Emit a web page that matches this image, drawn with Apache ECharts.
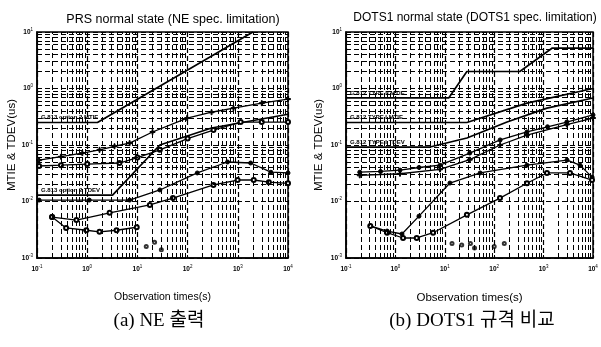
<!DOCTYPE html>
<html>
<head>
<meta charset="utf-8">
<script src="https://cdn.jsdelivr.net/npm/echarts@6/dist/echarts.min.js"></script>
<style>
  html, body { margin: 0; padding: 0; background: #fff; }
  #chart { width: 601px; height: 347px; }
</style>
</head>
<body>
<div id="chart"></div>
<script>
// (a) PRS normal state, NE spec. limitation  -- [tau(s), value(us)]
const neMtieMask = [[0.1, 0.25], [1.6, 0.25], [2000, 10]];
const neTdevMask = [[0.1, 0.013], [3.2, 0.013], [28, 0.1], [300, 0.2], [10000, 0.35]];
const neMtie1 = [[0.11, 0.054], [0.3, 0.062], [0.8, 0.072], [1.76, 0.082], [3.5, 0.095], [7, 0.108], [20, 0.17], [98, 0.3], [300, 0.38], [820, 0.45], [3000, 0.55], [10000, 0.65]];
const neMtie2 = [[0.11, 0.0425], [0.3, 0.044], [1, 0.046], [4.4, 0.048], [10, 0.06], [28, 0.082], [100, 0.13], [327, 0.184], [1140, 0.255], [3000, 0.255], [10000, 0.255]];
const neTdev1 = [[0.2, 0.0053], [0.61, 0.0047], [2.8, 0.0063], [17.7, 0.0087], [51, 0.0115], [327, 0.0196], [990, 0.024], [2075, 0.024], [4150, 0.022], [10000, 0.021]];
const neTdev2 = [[0.11, 0.0106], [1.1, 0.0106], [7, 0.0106], [28, 0.016], [156, 0.032], [624, 0.05], [1800, 0.048], [4560, 0.033], [10000, 0.032]];
const neTdev3 = [[0.2, 0.0053], [0.38, 0.0034], [0.96, 0.0031], [1.76, 0.0029], [3.85, 0.0031], [9.7, 0.0035]];
const neTdevLow = [[15, 0.0016], [22, 0.0019], [30, 0.0014]];

// (b) DOTS1 normal state, DOTS1 spec. limitation
const dotsMtieMask2 = [[0.1, 0.68], [12, 0.68], [28, 2], [330, 2], [1500, 5.2], [10000, 5.2]];
const dotsMtieMask1 = [[0.1, 0.25], [28, 0.25], [460, 0.55], [10000, 1.0]];
const dotsTdevMask1 = [[0.1, 0.092], [5, 0.092], [28, 0.133], [182, 0.255], [1170, 0.45], [10000, 0.68]];
const dotsMtie1 = [[0.19, 0.033], [0.5, 0.034], [1.24, 0.036], [3, 0.04], [8, 0.044], [32, 0.072], [132, 0.123], [460, 0.17], [1200, 0.21], [2950, 0.255], [10000, 0.34]];
const dotsMtie2 = [[0.19, 0.029], [1.24, 0.031], [8, 0.037], [32, 0.055], [132, 0.1], [460, 0.15], [2950, 0.23], [10000, 0.3]];
const dotsTdev1 = [[0.31, 0.0037], [0.68, 0.003], [1.36, 0.00266], [3, 0.0055], [12.7, 0.0212], [52, 0.032], [460, 0.044], [2980, 0.054], [5460, 0.044], [9550, 0.027]];
const dotsTdev2 = [[0.31, 0.0037], [0.68, 0.0028], [1.43, 0.00226], [2.7, 0.00226], [5.8, 0.0028], [28, 0.0058], [131, 0.0115], [461, 0.021], [1170, 0.032], [3420, 0.032], [9550, 0.024]];
const dotsTdevLow = [[14, 0.0018], [22, 0.0017], [33, 0.0018], [40, 0.0015], [100, 0.0016], [160, 0.0018]];

const maskNames = {
  neMtie: "G.813 option 2 MTIE",
  neTdev: "G.813 option 2 TDEV",
  dotsMtie2: "G.812 TYPE II MTIE",
  dotsMtie1: "G.812 TYPE I MTIE",
  dotsTdev1: "G.812 TYPE I TDEV",
};

const xDecades = [-1, 0, 1, 2, 3];
const yDecades = [-3, -2, -1, 0];

const FONT = "Liberation Sans";
const plusSymbol = "path://M4 0h2v4h4v2h-4v4h-2v-4h-4v-2h4z";
const gridDash = [5, 3];

// minor grid (2..9 of every decade) as mark lines
const minorLines = () => {
  const lines = [];
  xDecades.forEach((d) => {
    for (let m = 2; m <= 9; m++) lines.push({ xAxis: m * Math.pow(10, d) });
  });
  yDecades.forEach((d) => {
    for (let m = 2; m <= 9; m++) lines.push({ yAxis: m * Math.pow(10, d) });
  });
  return lines;
};

const powLabel = (v) => {
  const e = Math.round(Math.log10(v));
  return "{b|10}{e|" + e + "}";
};

const tickRich = {
  b: { fontSize: 6.5, fontFamily: FONT, fontWeight: "bold", color: "#000" },
  e: { fontSize: 4.5, fontFamily: FONT, color: "#000", padding: [0, 0, 5, 0] },
};

const xAxisFor = (idx, nameSize) => ({
  type: "log",
  gridIndex: idx,
  min: 0.1,
  max: 10000,
  logBase: 10,
  name: "Observation times(s)",
  nameLocation: "middle",
  nameGap: 34,
  nameTextStyle: { fontFamily: FONT, fontSize: nameSize, color: "#000" },
  axisLine: { show: true, lineStyle: { color: "#000", width: 1.5 } },
  axisTick: { show: true, inside: true, length: 3, lineStyle: { color: "#000" } },
  axisLabel: { formatter: powLabel, rich: tickRich, margin: 6 },
  splitLine: { show: true, lineStyle: { color: "#000", type: gridDash, width: 1.2 } },
});

const yAxisFor = (idx, nameSize, gap) => ({
  type: "log",
  gridIndex: idx,
  min: 0.001,
  max: 10,
  logBase: 10,
  name: "MTIE & TDEV(us)",
  nameLocation: "middle",
  nameGap: gap,
  nameTextStyle: { fontFamily: FONT, fontSize: nameSize, color: "#000" },
  axisLine: { show: true, lineStyle: { color: "#000", width: 1.5 } },
  axisTick: { show: true, inside: true, length: 3, lineStyle: { color: "#000" } },
  axisLabel: { formatter: powLabel, rich: tickRich, margin: 4 },
  splitLine: { show: true, lineStyle: { color: "#000", type: gridDash, width: 1.2 } },
});

const maskSeries = (idx, data, name) => ({
  type: "line",
  xAxisIndex: idx,
  yAxisIndex: idx,
  showSymbol: true,
  symbol: "circle",
  symbolSize: 0,
  lineStyle: { color: "#000", width: 1.7 },
  itemStyle: { color: "#000" },
  data: data.map((p, i) =>
    i === 0 && name
      ? {
          value: p,
          label: {
            show: true,
            position: [4, -8],
            formatter: name,
            fontFamily: FONT,
            fontSize: 6,
            fontWeight: "bold",
            color: "#000",
          },
        }
      : p
  ),
  z: 3,
});

const dataSeries = (idx, data, symbol, size) => ({
  type: "line",
  xAxisIndex: idx,
  yAxisIndex: idx,
  symbol: symbol,
  symbolSize: size,
  showAllSymbol: true,
  itemStyle: { color: "#000", borderColor: "#000", borderWidth: 1 },
  lineStyle: { color: "#000", width: 1.3 },
  data: data,
  z: 4,
});

const lowSeries = (idx, data) => ({
  type: "scatter",
  xAxisIndex: idx,
  yAxisIndex: idx,
  symbol: "emptyCircle",
  symbolSize: 3,
  itemStyle: { color: "#000", borderColor: "#000" },
  data: data,
  z: 4,
});

const gridHelper = (idx) => ({
  type: "line",
  xAxisIndex: idx,
  yAxisIndex: idx,
  data: [],
  silent: true,
  markLine: {
    silent: true,
    symbol: "none",
    animation: false,
    label: { show: false },
    lineStyle: { color: "#000", type: gridDash, width: 1 },
    data: minorLines(),
  },
  z: 1,
});

const chart = echarts.init(document.getElementById("chart"));

const option = {
  animation: false,
  backgroundColor: "#fff",
  title: [
    {
      text: "PRS normal state (NE spec. limitation)",
      left: 168,
      top: 8,
      textAlign: "center",
      textStyle: { fontFamily: FONT, fontSize: 12.5, fontWeight: "normal", color: "#000" },
    },
    {
      text: "DOTS1 normal state (DOTS1 spec. limitation)",
      left: 470,
      top: 7,
      textAlign: "center",
      textStyle: { fontFamily: FONT, fontSize: 12, fontWeight: "normal", color: "#000" },
    },
    {
      text: "(a) NE 출력",
      left: 154,
      top: 307,
      textAlign: "center",
      textStyle: { fontFamily: "Liberation Serif, Noto Sans CJK KR", fontSize: 19, fontWeight: "normal", color: "#000" },
    },
    {
      text: "(b) DOTS1 규격 비교",
      left: 467,
      top: 307,
      textAlign: "center",
      textStyle: { fontFamily: "Liberation Serif, Noto Sans CJK KR", fontSize: 19, fontWeight: "normal", color: "#000" },
    },
  ],
  grid: [
    { left: 37, top: 32, width: 251, height: 226, show: true, borderColor: "#000", borderWidth: 1.5, backgroundColor: "#fff" },
    { left: 346, top: 32, width: 247, height: 226, show: true, borderColor: "#000", borderWidth: 1.5, backgroundColor: "#fff" },
  ],
  xAxis: [xAxisFor(0, 10.5), xAxisFor(1, 11.5)],
  yAxis: [yAxisFor(0, 11.5, 18), yAxisFor(1, 11.5, 21)],
  series: [
    gridHelper(0),
    gridHelper(1),

    maskSeries(0, neMtieMask, maskNames.neMtie),
    maskSeries(0, neTdevMask, maskNames.neTdev),
    dataSeries(0, neMtie1, plusSymbol, 5),
    dataSeries(0, neMtie2, "emptyCircle", 4),
    dataSeries(0, neTdev1, "emptyCircle", 4),
    dataSeries(0, neTdev2, "circle", 4),
    dataSeries(0, neTdev3, "emptyCircle", 4),
    lowSeries(0, neTdevLow),

    maskSeries(1, dotsMtieMask2, maskNames.dotsMtie2),
    maskSeries(1, dotsMtieMask1, maskNames.dotsMtie1),
    maskSeries(1, dotsTdevMask1, maskNames.dotsTdev1),
    dataSeries(1, dotsMtie1, "circle", 4),
    dataSeries(1, dotsMtie2, plusSymbol, 5),
    dataSeries(1, dotsTdev1, "circle", 4),
    dataSeries(1, dotsTdev2, "emptyCircle", 4),
    lowSeries(1, dotsTdevLow),
  ],
};

chart.setOption(option);
</script>
</body>
</html>
